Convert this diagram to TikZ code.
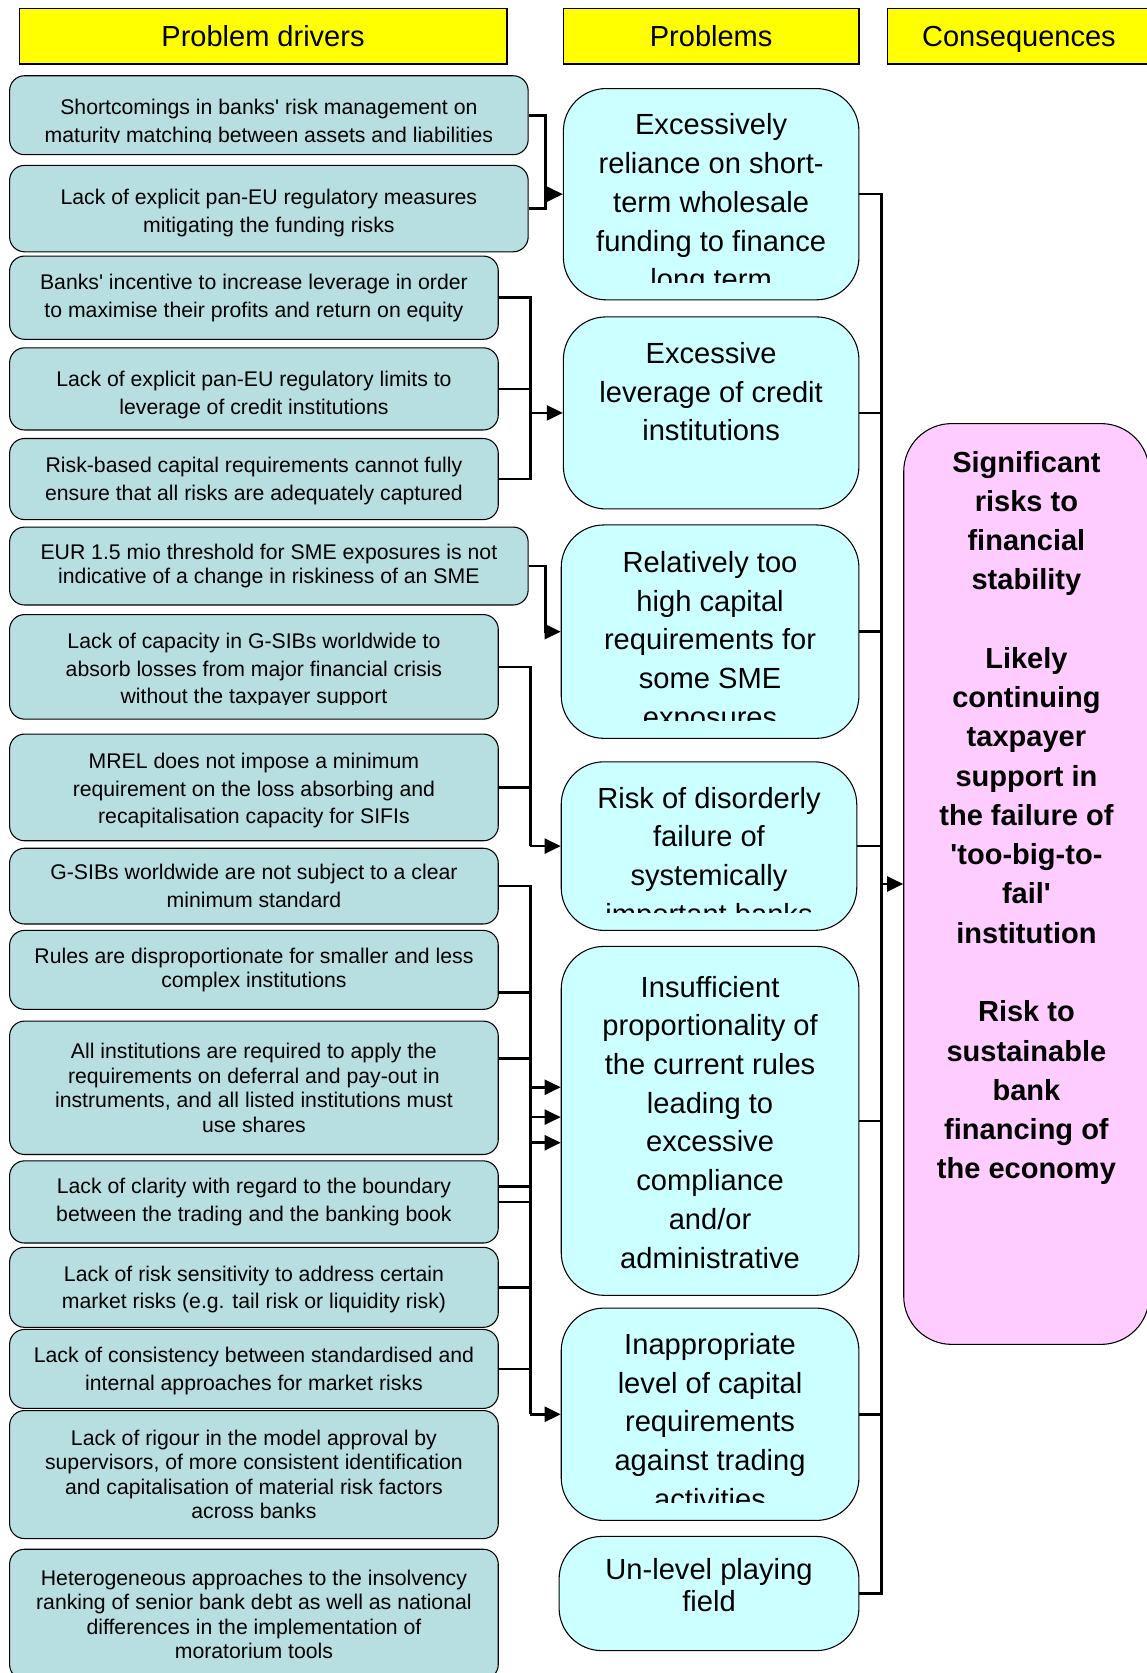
\documentclass[tikz,border=0pt]{standalone}
\usepackage{fontspec}
\setmainfont{Liberation Sans}
\usetikzlibrary{arrows.meta,positioning}

\definecolor{headyellow}{HTML}{FFFF00}
\definecolor{driverfill}{HTML}{B7DEE0}
\definecolor{problemfill}{HTML}{CCFFFF}
\definecolor{consfill}{HTML}{FFCCFF}

\begin{document}
\begin{tikzpicture}[x=1pt, y=-1pt,
	header/.style={draw=black, line width=1.3pt, fill=headyellow, minimum height=52pt, inner sep=0pt, text depth=0pt, font=\fontsize{27.2}{33}\selectfont},
	dtext/.style={align=center, inner sep=0pt, font=\fontsize{19.9}{26}\selectfont},
	tight/.style={font=\fontsize{19.9}{23}\selectfont},
	driver/.style={dtext, draw=black, line width=1pt, fill=driverfill, rounded corners=14pt, minimum width=458pt},
	wide/.style={minimum width=486pt},
	problem/.style={draw=black, line width=1pt, fill=problemfill, rounded corners=40pt, inner sep=0pt},
	ptext/.style={align=center, inner sep=0pt, anchor=north, font=\fontsize{27.3}{36.3}\selectfont},
	conseq/.style={draw=black, line width=1pt, fill=consfill, rounded corners=45pt, inner sep=0pt},
	ctext/.style={align=center, inner sep=0pt, anchor=north, font=\fontsize{27.2}{36.8}\selectfont\bfseries},
	conn/.style={line width=2.4pt},
	arr/.style={conn, -{Triangle[length=15pt, width=14pt]}}
]

	% ---- page

	\useasboundingbox (0,0) rectangle (1075,1568);
	\fill[white] (0,0) rectangle (1075,1568);

	% ---- headers

	\node[header, minimum width=457pt] (h1) at (246.5,34) {Problem drivers};
	\node[header, minimum width=277pt] (h2) at (666.5,34) {Problems};
	\node[header, minimum width=246pt] (h3) at (955,34) {Consequences};

	% ---- problem drivers

	\node[driver, wide, minimum height=74pt] (d1) at (252,108) {};
	\begin{scope}
		\clip (d1.north west) rectangle ([yshift=12pt]d1.south east);
		\node[dtext] (d1t) at (252,115) {Shortcomings in banks\textquotesingle{} risk management on\\ maturity matching between assets and liabilities};
	\end{scope}
	\node[driver, wide, minimum height=81pt] (d2) at (252,195.5) {};
	\node[dtext] (d2t) at (252,199.5) {Lack of explicit pan-EU regulatory measures\\ mitigating the funding risks};
	\node[driver, minimum height=78pt] (d3) at (238,279) {Banks\textquotesingle{} incentive to increase leverage in order\\ to maximise their profits and return on equity};
	\node[driver, minimum height=77pt] (d4) at (238,364.5) {};
	\node[dtext] (d4t) at (238,370.5) {Lack of explicit pan-EU regulatory limits to\\ leverage of credit institutions};
	\node[driver, minimum height=76pt] (d5) at (238,449) {};
	\node[dtext] (d5t) at (238,451) {Risk-based capital requirements cannot fully\\ ensure that all risks are adequately captured};
	\node[driver, wide, tight, minimum height=73pt] (d6) at (252,530.5) {EUR 1.5 mio threshold for SME exposures is not\\ indicative of a change in riskiness of an SME};
	\node[driver, minimum height=98pt] (d7) at (238,625) {};
	\begin{scope}
		\clip (d7.north west) rectangle ([yshift=14pt]d7.south east);
		\node[dtext] (d7t) at (238,628.5) {Lack of capacity in G-SIBs worldwide to\\ absorb losses from major financial crisis\\ without the taxpayer support};
	\end{scope}
	\node[driver, minimum height=100pt] (d8) at (238,738) {};
	\node[dtext] (d8t) at (238,741) {MREL does not impose a minimum\\ requirement on the loss absorbing and\\ recapitalisation capacity for SIFIs};
	\node[driver, minimum height=71pt] (d9) at (238,830.5) {G-SIBs worldwide are not subject to a clear\\ minimum standard};
	\node[driver, tight, minimum height=74pt] (d10) at (238,909) {Rules are disproportionate for smaller and less\\ complex institutions};
	\node[driver, tight, minimum height=125pt] (d11) at (238,1019.5) {All institutions are required to apply the\\ requirements on deferral and pay-out in\\ instruments, and all listed institutions must\\ use shares};
	\node[driver, minimum height=77pt] (d12) at (238,1126.5) {Lack of clarity with regard to the boundary\\ between the trading and the banking book};
	\node[driver, minimum height=75pt] (d13) at (238,1206.5) {};
	\node[dtext] (d13t) at (238,1208.5) {Lack of risk sensitivity to address certain\\ market risks (e.g. tail risk or liquidity risk)};
	\node[driver, minimum height=74pt] (d14) at (238,1283) {};
	\node[dtext] (d14t) at (238,1285) {Lack of consistency between standardised and\\ internal approaches for market risks};
	\node[driver, tight, minimum height=120pt] (d15) at (238,1382) {Lack of rigour in the model approval by\\ supervisors, of more consistent identification\\ and capitalisation of material risk factors\\ across banks};
	\node[driver, tight, minimum height=122pt] (d16) at (238,1513) {Heterogeneous approaches to the insolvency\\ ranking of senior bank debt as well as national\\ differences in the implementation of\\ moratorium tools};

	% ---- problems

	\node[problem, minimum width=277pt, minimum height=198pt] (p1) at (666.5,182) {};
	\node[problem, minimum width=277pt, minimum height=180pt] (p2) at (666.5,387) {};
	\node[problem, minimum width=279pt, minimum height=200pt] (p3) at (665.5,592) {};
	\node[problem, minimum width=277pt, minimum height=158pt] (p4) at (664.5,793) {};
	\node[problem, minimum width=279pt, minimum height=327pt] (p5) at (665.5,1050.5) {};
	\node[problem, minimum width=279pt, minimum height=199pt] (p6) at (665.5,1325.5) {};
	\node[problem, minimum width=281pt, minimum height=107pt] (p7) at (664.5,1493.5) {};

	\begin{scope}
		\clip (p1.north west) rectangle ([yshift=17pt]p1.south east);
		\node[ptext] (p1t) at ([yshift=-24pt]p1.north) {Excessively\\ reliance on short-\\ term wholesale\\ funding to finance\\ long term};
	\end{scope}
	\node[ptext] (p2t) at ([yshift=-24pt]p2.north) {Excessive\\ leverage of credit\\ institutions};
	\begin{scope}
		\clip (p3.north west) rectangle ([yshift=17pt]p3.south east);
		\node[ptext] (p3t) at ([yshift=-25pt]p3.north) {Relatively too\\ high capital\\ requirements for\\ some SME\\ exposures};
	\end{scope}
	\begin{scope}
		\clip (p4.north west) rectangle ([yshift=17pt]p4.south east);
		\node[ptext] (p4t) at ([yshift=-24pt]p4.north) {Risk of disorderly\\ failure of\\ systemically\\ important banks};
	\end{scope}
	\node[ptext] (p5t) at ([yshift=-28pt]p5.north) {Insufficient\\ proportionality of\\ the current rules\\ leading to\\ excessive\\ compliance\\ and/or\\ administrative};
	\begin{scope}
		\clip (p6.north west) rectangle ([yshift=17pt]p6.south east);
		\node[ptext] (p6t) at ([yshift=-24pt]p6.north) {Inappropriate\\ level of capital\\ requirements\\ against trading\\ activities};
	\end{scope}
	\node[ptext, font=\fontsize{27.3}{30}\selectfont] (p7t) at ([yshift=-21pt]p7.north) {Un-level playing\\ field};

	% ---- consequences

	\node[conseq, minimum width=230pt, minimum height=863pt] (c1) at (962,828.5) {};
	\node[ctext] (c1t) at ([yshift=-26pt]c1.north) {Significant\\ risks to\\ financial\\ stability\\[36.8pt] Likely\\ continuing\\ taxpayer\\ support in\\ the failure of\\ \textquotesingle too-big-to-\\ fail\textquotesingle\\ institution\\[36.8pt] Risk to\\ sustainable\\ bank\\ financing of\\ the economy};

	% ---- buses

	\coordinate (busA) at (511,0);
	\coordinate (busB) at (497,0);
	\coordinate (busC) at (826,0);

	% ---- drivers to problems

	\draw[conn] (d1.east) -- (d1.east -| busA) -- (d2.east -| busA) -- (d2.east);
	\draw[arr] (p1.west -| busA) -- (p1.west);

	\draw[conn] (d3.east) -- (d3.east -| busB) -- (d5.east -| busB) -- (d5.east);
	\draw[conn] (d4.east) -- (d4.east -| busB);
	\draw[arr] (p2.west -| busB) -- (p2.west);

	\draw[arr] (d6.east) -- (d6.east -| busA) -- (p3.west -| busA) -- (p3.west);

	\draw[conn] (d7.east) -- (d7.east -| busB) -- (p4.west -| busB);
	\draw[conn] (d8.east) -- (d8.east -| busB);
	\draw[arr] (p4.west -| busB) -- (p4.west);

	\coordinate (e10) at ([yshift=-21pt]d10.east);
	\coordinate (e11) at ([yshift=27.5pt]d11.east);
	\coordinate (e12) at ([yshift=14.5pt]d12.east);
	\draw[conn] (d9.east) -- (d9.east -| busB) -- (p6.west -| busB);
	\draw[conn] (e10) -- (e10 -| busB);
	\draw[conn] (e11) -- (e11 -| busB);
	\draw[conn] (e12) -- (e12 -| busB);
	\draw[conn] (d12.east) -- (d12.east -| busB);
	\draw[conn] (d13.east) -- (d13.east -| busB);
	\draw[conn] (d14.east) -- (d14.east -| busB);

	\coordinate (q1) at ([yshift=31.5pt]p5.west);
	\coordinate (q2) at ([yshift=3.5pt]p5.west);
	\coordinate (q3) at ([yshift=-20.5pt]p5.west);
	\draw[arr] (q1 -| busB) -- (q1);
	\draw[arr] (q2 -| busB) -- (q2);
	\draw[arr] (q3 -| busB) -- (q3);
	\draw[arr] (p6.west -| busB) -- (p6.west);

	% ---- problems to consequences

	\draw[conn] (p1.east) -- (p1.east -| busC) -- (p7.east -| busC) -- (p7.east);
	\foreach \i in {2,...,6} { \draw[conn] (p\i.east) -- (p\i.east -| busC); }
	\draw[arr] (c1.west -| busC) -- (c1.west);

\end{tikzpicture}
\end{document}
